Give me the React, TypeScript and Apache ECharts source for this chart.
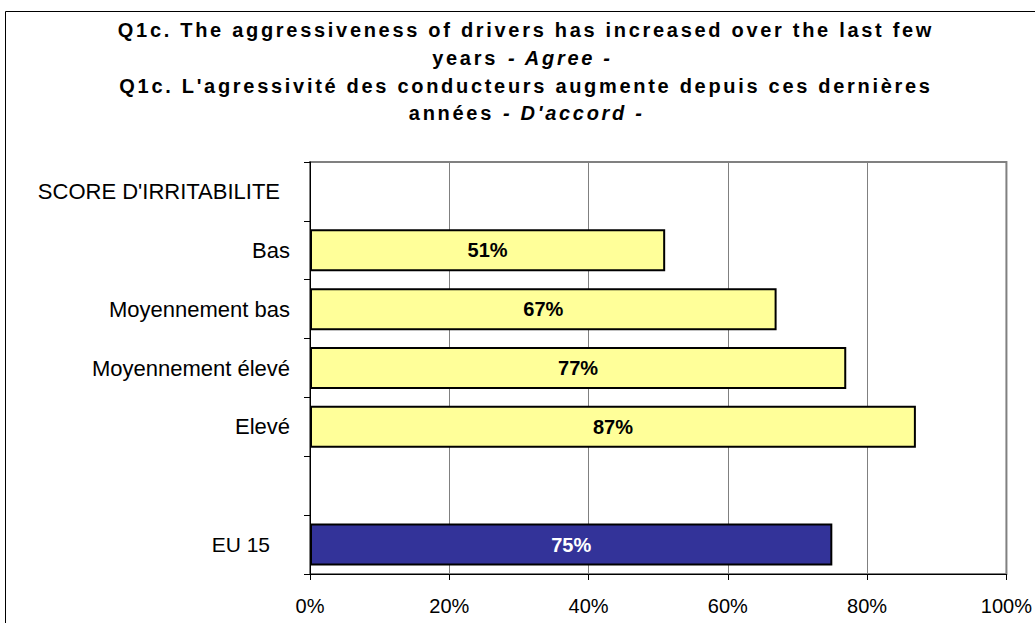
import React, { useEffect, useRef } from "react";
import * as echarts from "echarts";

const categories = [
  "SCORE D'IRRITABILITE",
  "Bas",
  "Moyennement bas",
  "Moyennement élevé",
  "Elevé",
  "",
  "EU 15",
];
const values: (number | null)[] = [null, 51, 67, 77, 87, null, 75];
const barColors = ["#FFFF99", "#FFFF99", "#FFFF99", "#FFFF99", "#FFFF99", "#FFFF99", "#333399"];
const labelColors = ["#000", "#000", "#000", "#000", "#000", "#000", "#FFFFFF"];
const xTicks = [0, 20, 40, 60, 80, 100];

const titleLine1 = "Q1c. The aggressiveness of drivers has increased over the last few";
const titleLine2a = "years";
const titleLine2b = "- Agree -";
const titleLine3 = "Q1c. L'agressivité des conducteurs augmente depuis ces dernières";
const titleLine4a = "années";
const titleLine4b = "- D'accord -";

export default function App() {
  const ref = useRef<HTMLDivElement>(null);
  useEffect(() => {
    if (!ref.current) return;
    const chart = echarts.init(ref.current, null, { renderer: "svg" });
    const font = "Arial, sans-serif";
    const tFont = "'Liberation Sans', Arial, sans-serif";
    const tStyle = (text: string, x: number, y: number, align: string, italic = false) => ({
      type: "text",
      x,
      y,
      silent: true,
      style: {
        text,
        fill: "#000",
        fontFamily: tFont,
        fontWeight: "bold",
        fontStyle: italic ? "italic" : "normal",
        fontSize: 20,
        textAlign: align,
        textVerticalAlign: "middle",
      },
    });
    chart.setOption({
      animation: false,
      backgroundColor: "#fff",
      graphic: [
        {
          type: "rect",
          shape: { x: 5.5, y: 11.5, width: 1100, height: 700 },
          style: { fill: "none", stroke: "#000", lineWidth: 1 },
          silent: true,
        },
        tStyle(titleLine1, 526, 30, "center"),
        tStyle(titleLine2a, 498, 57.5, "right"),
        tStyle(titleLine2b, 508, 57.5, "left", true),
        tStyle(titleLine3, 526, 85.5, "center"),
        tStyle(titleLine4a, 494, 113, "right"),
        tStyle(titleLine4b, 503, 113, "left", true),
      ],
      grid: {
        left: 310,
        right: 27,
        top: 162,
        bottom: 49,
        show: true,
        borderColor: "#808080",
        borderWidth: 2,
      },
      xAxis: {
        type: "value",
        min: 0,
        max: 100,
        interval: 20,
        axisLine: { show: true, lineStyle: { color: "#000", width: 1 } },
        axisTick: { show: true, length: 6, lineStyle: { color: "#000" } },
        splitLine: { show: true, lineStyle: { color: "#808080", width: 1 } },
        axisLabel: {
          formatter: (v: number) => (xTicks.includes(v) ? v + "%" : ""),
          fontFamily: font,
          fontSize: 20,
          color: "#000",
          margin: 22,
        },
      },
      yAxis: {
        type: "category",
        inverse: true,
        data: categories,
        axisLine: { show: true, lineStyle: { color: "#000", width: 1 } },
        axisTick: { show: true, length: 6, alignWithLabel: false, lineStyle: { color: "#000" } },
        axisLabel: {
          fontFamily: font,
          fontSize: 22,
          color: "#000",
          margin: 20,
          formatter: (v: string) => {
            if (v === "EU 15") return "{p20|" + v + "}";
            if (v.startsWith("SCORE")) return "{p10|" + v + "}";
            return v;
          },
          rich: {
            p20: { fontFamily: font, fontSize: 21, color: "#000", padding: [0, 20, 0, 0] },
            p10: { fontFamily: font, fontSize: 22, color: "#000", padding: [0, 10, 0, 0] },
          },
        },
      },
      series: [
        {
          type: "bar",
          barWidth: 42,
          data: values.map((v, i) => ({
            value: v,
            itemStyle: { color: barColors[i], borderColor: "#000", borderWidth: 2 },
            label: { color: labelColors[i] },
          })),
          label: {
            show: true,
            position: "inside",
            formatter: "{c}%",
            fontFamily: font,
            fontWeight: "bold",
            fontSize: 20,
          },
        },
      ],
    });
    return () => chart.dispose();
  }, []);
  return (
    <>
      <style>
        {".chart-root text[style*='Liberation'], .chart-root text[font-family*='Liberation'] { letter-spacing: 2.7px; }"}
      </style>
      <div
        ref={ref}
        className="chart-root"
        style={{ position: "absolute", left: 0, top: 0, width: 1035, height: 623 }}
      />
    </>
  );
}
